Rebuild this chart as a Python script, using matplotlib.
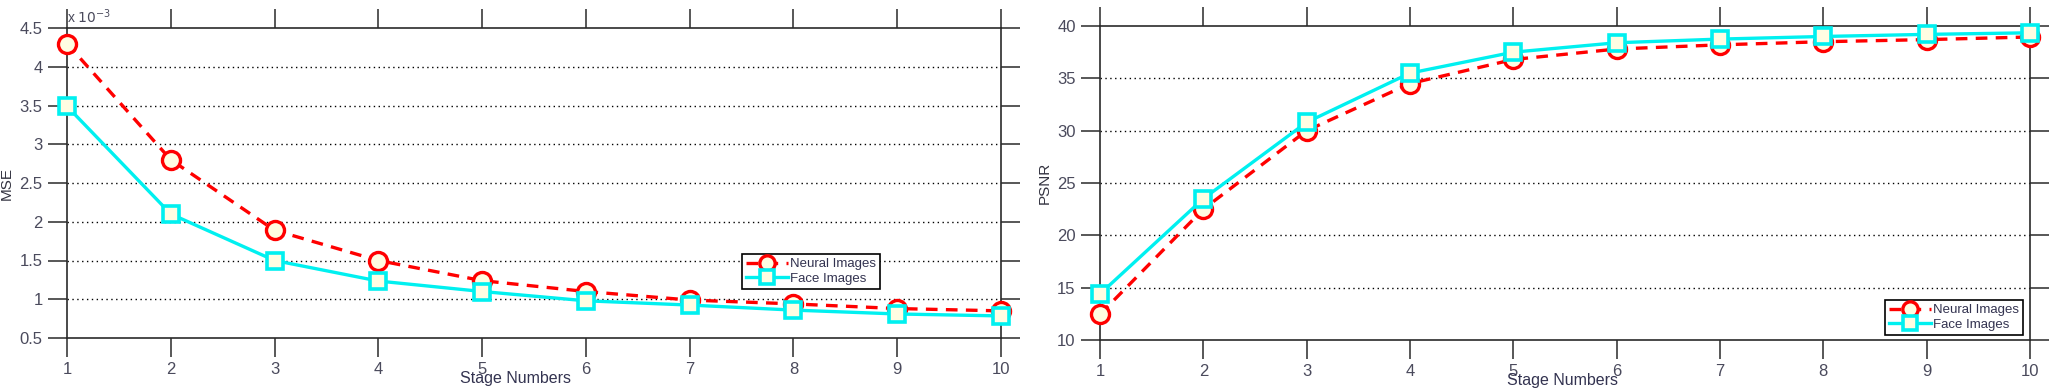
#!/usr/bin/env python3
"""MSE / PSNR versus stage number, two panels side by side"""
import matplotlib
matplotlib.use('Agg')
import matplotlib.pyplot as plt

matplotlib.rcParams['font.family'] = ['Liberation Sans', 'DejaVu Sans']

stages = [1, 2, 3, 4, 5, 6, 7, 8, 9, 10]

# MSE in units of 1e-3
mse_neural = [4.30, 2.80, 1.89, 1.50, 1.24, 1.10, 0.99, 0.94, 0.88, 0.85]
mse_face = [3.49, 2.10, 1.50, 1.235, 1.10, 0.98, 0.925, 0.86, 0.81, 0.785]

psnr_neural = [12.45, 22.5, 30.0, 34.5, 36.8, 37.8, 38.2, 38.5, 38.7, 38.95]
psnr_face = [14.4, 23.5, 30.8, 35.5, 37.5, 38.4, 38.75, 39.0, 39.2, 39.35]

mse_ticks = [0.5, 1, 1.5, 2, 2.5, 3, 3.5, 4, 4.5]
psnr_ticks = [10, 15, 20, 25, 30, 35, 40]

LABEL_C = '#4a4a5c'
SPINE_C = '#2a2a2a'
FACE = '#fffde2'

fig = plt.figure(figsize=(20.54, 3.92), dpi=100)
ax1 = fig.add_axes([67 / 2054, 54 / 392, 934 / 2054, 310 / 392])
ax2 = fig.add_axes([1100 / 2054, 52 / 392, 930 / 2054, 314 / 392])


def style(ax, neural, face, yticks, ylabel, xlab_x, leg_anchor):
    ax.plot(stages, neural, color='red', linestyle=(0, (3.5, 2.5)), linewidth=2.4,
            marker='o', markersize=13, markerfacecolor=FACE, markeredgecolor='red',
            markeredgewidth=2.4, label='Neural Images', clip_on=False, zorder=4)
    ax.plot(stages, face, color='#00f0f0', linestyle='-', linewidth=2.4,
            marker='s', markersize=12, markerfacecolor=FACE, markeredgecolor='#00f0f0',
            markeredgewidth=2.6, label='Face Images', clip_on=False, zorder=5)
    ax.set_xlim(1, 10)
    ax.set_ylim(yticks[0], yticks[-1])
    ax.set_xticks(stages)
    ax.set_yticks(yticks)
    ax.set_yticklabels([f'{t:g}' for t in yticks])
    for y in yticks[1:-1]:
        ax.axhline(y, color='black', linestyle=(0, (1, 2.5)), linewidth=1.0, zorder=1)
    ax.tick_params(direction='out', length=13.5, width=1.1, color=SPINE_C,
                   top=True, right=True, labelsize=12, labelcolor=LABEL_C, pad=4)
    for s in ax.spines.values():
        s.set_color(SPINE_C)
        s.set_linewidth(1.2)
    ax.set_ylabel(ylabel, fontsize=11, color='#333340', labelpad=4)
    ax.set_xlabel('Stage Numbers', fontsize=11.5, color='#333350')
    ax.xaxis.set_label_coords(xlab_x, -0.105)
    leg = ax.legend(loc='lower right', bbox_to_anchor=leg_anchor, fontsize=9.5,
                    frameon=True, fancybox=False, edgecolor='black', framealpha=1,
                    handlelength=3.2, handletextpad=0.1, borderpad=0.3,
                    labelspacing=0.2, borderaxespad=0, markerscale=0.85)
    leg.get_frame().set_linewidth(1.2)
    for t in leg.get_texts():
        t.set_color('#333350')


style(ax1, mse_neural, mse_face, mse_ticks, 'MSE', 0.48, (0.870, 0.158))
style(ax2, psnr_neural, psnr_face, psnr_ticks, 'PSNR', 0.497, (0.992, 0.016))

ax1.text(0.0, 1.005, r'x $10^{-3}$', transform=ax1.transAxes, fontsize=10,
         color=LABEL_C, ha='left', va='bottom')

fig.patch.set_facecolor('white')
fig.savefig('out.png', dpi=100, facecolor='white')
plt.close(fig)
